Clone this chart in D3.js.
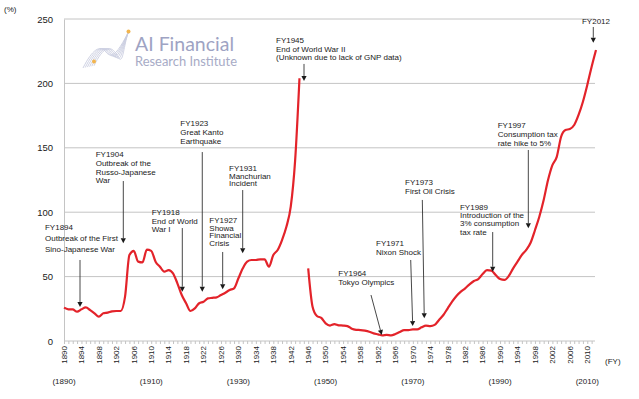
<!DOCTYPE html>
<html><head><meta charset="utf-8">
<script src="https://cdn.jsdelivr.net/npm/d3@7"></script>
<style>
html,body{margin:0;padding:0;background:#fff;}
svg{display:block;font-family:"Liberation Sans",Arial,sans-serif;}
</style></head>
<body><svg id="chart" width="639" height="399"></svg>
<script>
// ---- data ----
const yearsPre = d3.range(1890, 1945);
const valuesPre = [25.9,24.6,24.5,22.8,24.6,26.1,24.0,21.5,18.9,21.5,
  22.0,23.0,23.3,23.3,34.4,66.8,70.0,61.6,61.0,71.0,
  70.0,61.6,57.7,53.8,55.1,52.5,44.8,35.7,29.3,23.3,
  25.3,29.3,30.5,33.1,33.5,33.9,35.7,37.5,39.6,40.9,
  48.7,56.4,61.6,62.9,62.9,63.4,63.4,57.7,66.8,70.7,
  78.4,88.7,104.3,140.0,204.0];
const yearsPost = d3.range(1946, 2013);
const valuesPost = [56.4,26.6,19.4,17.9,13.7,12.0,13.1,12.2,12.0,11.6,
  9.5,8.7,8.5,8.0,7.2,5.9,5.2,4.4,4.7,4.4,
  5.4,7.0,8.5,8.5,9.0,9.0,10.6,11.9,11.6,12.5,
  16.3,20.2,25.4,30.5,34.9,38.3,40.9,44.0,46.6,48.1,
  52.0,55.0,54.6,51.2,48.1,47.4,50.5,56.4,61.6,66.8,
  70.7,76.3,86.0,96.5,109.5,125.0,136.6,143.0,158.6,163.8,
  164.6,167.7,175.5,185.8,198.8,213.0,226.0];
const yTicks = [0, 50, 100, 150, 200, 250];
const xTickLabels = d3.range(1890, 2011, 4);
const decadeLabels = [1890, 1910, 1930, 1950, 1970, 1990, 2010];

// annotation content (event year, text lines)
const annTitles = ["FY1894","FY1904","FY1918","FY1923","FY1927","FY1931","FY1945","FY1964","FY1971","FY1973","FY1989","FY1997","FY2012"];
const annLines = [
  ["Outbreak of the First","Sino-Japanese War"],
  ["Outbreak of the","Russo-Japanese","War"],
  ["End of World","War I"],
  ["Great Kanto","Earthquake"],
  ["Showa","Financial","Crisis"],
  ["Manchurian","Incident"],
  ["End of World War II","(Unknown due to lack of GNP data)"],
  ["Tokyo Olympics"],
  ["Nixon Shock"],
  ["First Oil Crisis"],
  ["Introduction of the","3% consumption","tax rate"],
  ["Consumption tax","rate hike to 5%"],
  []
];

// ---- layout (in data units: year / percent) ----
const annLayout = [
  {tip:[1893.67,26.4], from:[1893.67,62.9], text:[1885.64,88.5], lh:11},
  {tip:[1903.60,75.9], from:[1903.60,124.2], text:[1897.27,145.0], lh:8.7},
  {tip:[1917.13,38.3], from:[1917.13,87.7], text:[1910.11,99.9], lh:8.5},
  {tip:[1921.71,38.3], from:[1921.71,146.7], text:[1916.67,169.0], lh:9},
  {tip:[1926.39,40.1], from:[1926.39,69.1], text:[1923.32,93.9], lh:7.6},
  {tip:[1930.98,68.1], from:[1930.98,117.2], text:[1927.84,134.1], lh:7.6},
  {tip:[1945.04,201.9], from:[1945.04,215.1], text:[1938.62,233.7], lh:8.7},
  {tip:[1962.86,4.7], from:[1960.40,35.7], text:[1952.90,53.0], lh:9},
  {tip:[1969.97,11.6], from:[1969.51,62.9], text:[1961.55,75.9], lh:9},
  {tip:[1972.62,17.6], from:[1972.17,109.5], text:[1968.20,123.7], lh:9},
  {tip:[1988.31,53.8], from:[1988.31,84.6], text:[1980.81,104.3], lh:8.3},
  {tip:[1996.48,87.5], from:[1996.48,148.3], text:[1989.46,167.7], lh:8.8},
  {tip:[2011.38,231.6], from:[2011.38,243.8], text:[2012.0,248.2], lh:9, center:true}
];

// ---- drawing ----
const svg = d3.select("#chart");
const x = d3.scaleLinear().domain([1890, 2012]).range([64, 596]);
const y = d3.scaleLinear().domain([0, 250]).range([341, 19]);
const gridColor = "#c4c4c4";
const textColor = "#1a1a1a";

// logo watermark
const logo = svg.append("g");
const ribbon = logo.append("g").attr("fill","none").attr("stroke","#c9cde0").attr("stroke-width",0.9);
for (let i = 0; i < 6; i++) {
  const o = i * 2.2;
  ribbon.append("path").attr("d",
    `M${83+o},${68-o*0.2} C${92+o},${50-o*0.3} ${100+o},${44} ${106+o},${52+o*0.3} S${118+o*0.4},${52} ${128},${33}`);
}
logo.append("circle").attr("cx",128.5).attr("cy",31.5).attr("r",2).attr("fill","#f2b54e");
logo.append("circle").attr("cx",94).attr("cy",61.5).attr("r",2).attr("fill","#f2b54e");
logo.append("text").attr("x",135).attr("y",51).attr("font-family","Lato, 'Open Sans', sans-serif")
  .attr("font-size",19).attr("fill","#9ea3c3").attr("textLength",99).attr("lengthAdjust","spacingAndGlyphs")
  .text("AI Financial");
logo.append("text").attr("x",135).attr("y",65.5).attr("font-family","Lato, 'Open Sans', sans-serif")
  .attr("font-size",12.5).attr("fill","#a7abc6").attr("textLength",102).attr("lengthAdjust","spacingAndGlyphs")
  .text("Research Institute");

// horizontal grid
svg.append("g").selectAll("line").data(yTicks.filter(d => d > 0)).join("line")
  .attr("x1", x(1890)).attr("x2", 595)
  .attr("y1", d => y(d)).attr("y2", d => y(d))
  .attr("stroke", gridColor).attr("stroke-width", 1);

// y axis
const yAxis = d3.axisLeft(y).tickValues(yTicks).tickSize(0).tickPadding(11);
const gy = svg.append("g").attr("transform", `translate(${x(1890)},0)`).call(yAxis);
gy.select(".domain").attr("stroke", gridColor);
gy.selectAll("text").attr("font-size", 9.5).attr("fill", textColor).attr("font-family","Liberation Sans, Arial, sans-serif");

// x axis
const xAxis = d3.axisBottom(x).tickValues(d3.range(1890, 2012, 1)).tickSize(3).tickFormat("");
const gx = svg.append("g").attr("transform", `translate(0,${y(0)})`).call(xAxis);
gx.select(".domain").attr("stroke", gridColor).attr("d", `M${x(1890)},0H595`);
gx.selectAll(".tick line").attr("stroke", gridColor);

svg.append("g").selectAll("text").data(xTickLabels).join("text")
  .attr("transform", d => `translate(${x(d)},${y(0) + 5}) rotate(-90)`)
  .attr("text-anchor", "end").attr("dy", "0.35em")
  .attr("font-size", 8).attr("fill", textColor).text(d => d);

svg.append("g").selectAll("text").data(decadeLabels).join("text")
  .attr("x", d => x(d)).attr("y", 384).attr("text-anchor", "middle")
  .attr("font-size", 8).attr("fill", textColor).text(d => `(${d})`);

svg.append("text").attr("x", 605).attr("y", 364).attr("font-size", 8).attr("fill", textColor).text("(FY)");
svg.append("text").attr("x", 4).attr("y", 12).attr("font-size", 8).attr("fill", textColor).text("(%)");

// series line
const line = d3.line().x(d => x(d[0])).y(d => y(d[1])).curve(d3.curveMonotoneX);
const segPre = yearsPre.map((yr, i) => [yr, valuesPre[i]]);
const segPost = yearsPost.map((yr, i) => [yr, valuesPost[i]]);
svg.append("g").selectAll("path").data([segPre, segPost]).join("path")
  .attr("d", line).attr("fill", "none").attr("stroke", "#e3232a")
  .attr("stroke-width", 2.2).attr("stroke-linejoin", "round");

// annotations
const ann = svg.append("g").attr("fill", textColor).attr("font-size", 8);
annTitles.forEach((t, i) => {
  const L = annLayout[i];
  const tx = x(L.tip[0]), ty = y(L.tip[1]);
  const fx = x(L.from[0]), fy = y(L.from[1]);
  const ang = Math.atan2(ty - fy, tx - fx);
  const ah = 5, aw = 2.6;
  const bx = tx - ah * Math.cos(ang), by = ty - ah * Math.sin(ang);
  ann.append("line").attr("x1", fx).attr("y1", fy).attr("x2", bx).attr("y2", by)
    .attr("stroke", "#333").attr("stroke-width", 0.9);
  ann.append("path").attr("d",
    `M${tx},${ty}L${bx + aw*Math.sin(ang)},${by - aw*Math.cos(ang)}L${bx - aw*Math.sin(ang)},${by + aw*Math.cos(ang)}Z`)
    .attr("fill", "#1a1a1a");
  const lines = [t].concat(annLines[i]);
  const txt = ann.append("text").attr("x", x(L.text[0])).attr("y", y(L.text[1]) + 3)
    .attr("text-anchor", L.center ? "middle" : "start");
  lines.forEach((s, j) => {
    txt.append("tspan").attr("x", x(L.text[0])).attr("dy", j === 0 ? 0 : L.lh).text(s);
  });
});
</script></body></html>
